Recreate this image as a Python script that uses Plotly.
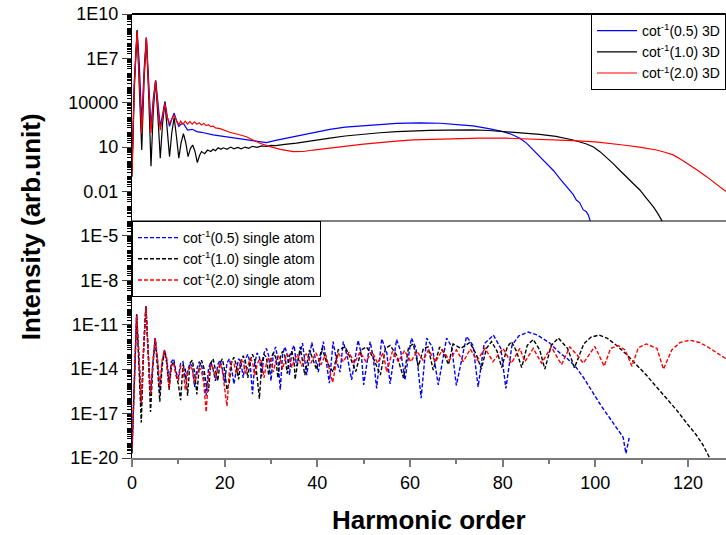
import plotly.graph_objects as go

# ---------------- data (log10 of intensity) ----------------
# 3D results (top panel)
h_3d_05 = [0, 0.5, 1.1, 1.6, 2.1, 2.6, 3.1, 3.6, 4.1, 4.6, 5.1, 5.6, 6.1, 6.6, 7.1, 7.6, 8.1, 8.6, 9.1, 9.6,
           10.1, 10.6, 11.1, 12, 13, 14, 15, 17.5, 20, 22.5, 24.7, 27, 29, 31, 33, 35.5, 39, 42.7, 46, 49.9,
           53.5, 57.1, 62.1, 66.5, 70.8, 73.6, 77, 80.1, 82, 83.7, 85.2, 86.6, 88, 89.5, 91, 92.3, 93.5, 94.5,
           95.2, 95.9, 96.6, 97.4, 98.0, 98.5, 99.0]
lg_3d_05 = [-0.5, 5.5, 8.9, 6.5, 2.6, 6.2, 8.4, 5.8, 2.4, 4.3, 5.5, 4.0, 2.4, 3.2, 4.1, 3.1, 2.4, 2.9, 3.3, 2.8,
            2.4, 2.55, 2.6, 2.15, 2.2, 2.05, 2.0, 1.82, 1.7, 1.6, 1.48, 1.38, 1.3, 1.45, 1.58, 1.7, 1.95, 2.2, 2.35, 2.45,
            2.53, 2.6, 2.63, 2.61, 2.5, 2.43, 2.25, 2.04, 1.85, 1.6, 1.25, 0.8, 0.35, -0.1, -0.6, -1.11, -1.55, -1.9,
            -2.2, -2.58, -2.75, -3.25, -3.35, -3.6, -4.1]

h_3d_10 = [0, 0.5, 1.1, 1.6, 2.1, 2.6, 3.1, 3.6, 4.1, 4.6, 5.1, 5.6, 6.1, 6.6, 7.1, 7.6, 8.1, 8.6, 9.1, 9.6,
           10.1, 10.6, 11.1, 11.6, 12.1, 12.6, 13.1, 13.6, 14.1, 14.6, 15.0, 15.7, 16.3, 17, 17.5, 18, 18.6, 19.2,
           19.7, 20.5, 21.3, 22, 22.8, 23.6, 24.4, 25.2, 26, 27, 28, 29, 30, 31, 32, 33, 35.5, 39, 42.7, 46, 49.9,
           53.5, 57.1, 60.7, 64.3, 68, 70.8, 73.6, 77, 80.8, 84.4, 88, 91.5, 95.2, 98.1, 99.6, 101, 102.4, 103.8,
           105.2, 106.7, 108.2, 109.6, 111, 112.5, 113.5, 114.5]
lg_3d_10 = [-1.0, 5.0, 8.9, 5.0, 0.8, 5.5, 8.4, 4.5, -0.3, 3.5, 5.5, 3.0, 0.25, 2.6, 4.0, 2.2, 0.35, 2.0, 3.0, 1.7,
            0.25, 1.3, 1.9, 1.3, 0.35, 0.9, 1.14, 0.7, -0.05, 0.45, 0.7, 0.55, 0.8, 0.7, 0.85, 0.75, 0.95, 0.85,
            0.95, 0.85, 1.0, 0.88, 0.98, 0.88, 1.0, 0.92, 1.05, 0.98, 1.08, 1.04, 1.12, 1.1, 1.16, 1.18, 1.27, 1.45, 1.6, 1.75, 1.89,
            1.97, 2.04, 2.1, 2.13, 2.15, 2.16, 2.16, 2.12, 2.04, 1.96, 1.86, 1.72, 1.48, 1.21, 1.0, 0.69, 0.3, -0.1,
            -0.55, -1.0, -1.45, -1.9, -2.45, -3.03, -3.5, -4.05]

h_3d_20 = [0, 0.5, 1.1, 1.6, 2.1, 2.6, 3.1, 3.6, 4.1, 4.6, 5.1, 5.6, 6.1, 6.6, 7.1, 7.6, 8.1, 8.6, 9.1, 9.6,
           10.1, 10.5, 11, 11.5, 12, 12.5, 13, 13.5, 14, 14.5, 15, 15.5, 16, 16.5, 17, 17.5, 18, 19, 21.1, 23,
           24.7, 26, 27.6, 29.8, 32, 34.8, 37, 39.1, 42, 46.3, 50, 53.5, 57, 60.7, 65, 70.8, 75, 80.8, 85, 90,
           95.2, 100, 103, 106, 109.5, 113.2, 115, 116.8, 118.6, 120.4, 122.2, 124, 126, 128.2]
lg_3d_20 = [-0.8, 5.2, 8.85, 5.5, 1.9, 5.8, 8.4, 5.0, 1.95, 4.0, 5.5, 3.6, 2.15, 3.0, 3.96, 3.0, 2.6, 2.9, 3.17, 2.8,
            2.5, 2.75, 2.55, 2.75, 2.55, 2.72, 2.55, 2.7, 2.55, 2.65, 2.5, 2.6, 2.45, 2.52, 2.38, 2.42, 2.3, 2.25, 2.0, 1.85,
            1.7, 1.5, 1.26, 1.03, 0.85, 0.69, 0.7, 0.8, 0.92, 1.07, 1.2, 1.32, 1.4, 1.48, 1.52, 1.58, 1.6, 1.6, 1.56, 1.5,
            1.44, 1.35, 1.27, 1.14, 1.0, 0.8, 0.65, 0.47, 0.15, -0.2, -0.6, -1.0, -1.5, -2.0]

# single atom results (bottom panel)
h_sa_low = [0, 0.5, 1, 1.5, 2, 2.5, 3, 3.5, 4, 4.5, 5, 5.5, 6, 6.5, 7, 7.5, 8, 8.5, 9, 9.5,
            10, 10.5, 11, 11.5, 12, 12.5, 13, 13.5, 14, 14.5, 15, 15.5, 16, 16.5, 17, 17.5, 18, 18.5, 19, 19.5,
            20, 20.5, 21, 21.5, 22, 22.5, 23, 23.5, 24, 24.5, 25, 25.5, 26, 26.5, 27, 27.5, 28, 28.5, 29, 29.5,
            30, 30.5, 31, 31.5, 32, 32.5, 33, 33.5, 34, 34.5, 35]

lg_sa_05_low = [-19.5, -14.0, -10.3, -13.2, -16.5, -12.6, -9.75, -12.8, -15.8, -13.6, -11.9, -13.4, -15.6, -13.6, -12.7, -13.3,
                -14.8, -13.5, -13.3, -14.2, -14.6, -13.6, -13.5, -14.7, -14.2, -13.6, -13.8, -15.2, -14.0, -13.5, -13.7, -14.6,
                -15.8, -14.0, -13.5, -14.0, -14.8, -13.7, -13.4, -14.0, -14.9, -13.6, -13.3, -14.0, -15.0, -14.2, -13.3, -13.5,
                -14.6, -13.3, -13.0, -13.6, -15.7, -13.6, -12.9, -13.2, -14.5, -12.9, -12.6, -13.1, -14.8, -13.0, -12.5, -13.4,
                -15.4, -13.0, -12.5, -13.0, -14.4, -12.7, -12.4]
h_sa_05_high = [35.5, 36.8, 37.7, 38.8, 40.2, 41.3, 42.6, 43.4, 44.2, 44.9, 45.6, 46.5, 47.4, 48.8, 49.5, 50.0, 51.4, 52.1,
                52.8, 53.9, 55.0, 55.7, 57.1, 58.0, 58.9, 60.3, 61.3, 62.4, 63.6, 64.8, 66.1, 67.9, 69.0, 70.0, 72.2, 73.6,
                74.7, 76.0, 78.0, 79.6, 80.7, 82.0, 83.5, 85.5, 87.5, 89.5, 90.2, 92.3, 94.0, 95.9, 97.5, 99.5, 101.3, 103.1,
                104.5, 106.0, 106.6, 107.0, 107.4]
lg_sa_05_high = [-13.8, -12.25, -14.4, -12.2, -14.2, -12.14, -14.95, -12.14, -13.5, -14.2, -12.14, -13.2, -14.73, -12.05, -13.0,
                 -15.06, -12.14, -13.3, -15.3, -11.95, -12.9, -15.0, -12.0, -12.8, -14.73, -11.9, -12.6, -15.96, -11.9, -12.5,
                 -15.06, -11.9, -12.5, -15.1, -11.8, -12.4, -15.2, -12.3, -11.7, -12.6, -15.3, -12.4, -11.75, -11.5, -11.7,
                 -12.1, -12.25, -12.9, -13.3, -13.9, -14.6, -15.6, -16.5, -17.3, -17.9, -18.6, -19.7, -19.0, -18.5]

lg_sa_10_low = [-19.7, -14.5, -10.3, -13.8, -17.6, -12.8, -9.75, -13.0, -16.9, -13.8, -11.95, -13.9, -16.2, -13.8, -12.8, -13.6,
                -15.4, -13.8, -13.5, -14.4, -15.0, -16.1, -13.7, -14.0, -15.8, -13.6, -13.4, -14.2, -15.7, -13.9, -13.4, -13.9,
                -15.0, -15.5, -13.6, -13.3, -14.0, -14.8, -13.6, -13.3, -14.1, -15.4, -14.9, -13.5, -13.2, -13.7, -14.7, -13.5,
                -13.1, -13.5, -14.6, -13.4, -13.0, -13.4, -14.5, -16.0, -13.6, -13.0, -13.2, -14.4, -13.3, -12.9, -13.2, -14.6,
                -13.2, -12.8, -13.1, -14.3, -13.1, -12.8, -13.5]
h_sa_10_high = [35.2, 36.3, 37.3, 38.3, 39.8, 41.0, 42.0, 43.4, 44.5, 46.0, 47.2, 48.3, 49.5, 50.6, 52.0, 53.6, 54.7, 55.7,
                57.2, 58.6, 59.7, 60.7, 61.8, 62.9, 63.9, 65.0, 66.4, 67.3, 68.3, 69.3, 71.0, 72.9, 74.3, 75.4, 76.5, 77.6,
                78.8, 79.8, 81.0, 81.9, 83.0, 84.1, 85.3, 86.6, 88.0, 89.1, 90.5, 92.0, 94.0, 95.5, 97.5, 99.0, 100.8, 102.5,
                104.6, 106.7, 108.9, 111.0, 113.2, 115.3, 117.5, 119.6, 121.8, 123.2, 124.6]
lg_sa_10_high = [-14.7, -12.5, -14.4, -12.7, -14.0, -12.6, -13.5, -14.2, -12.7, -12.5, -13.3, -14.16, -12.7, -12.5, -13.2, -14.4,
                 -12.6, -12.4, -13.1, -14.6, -12.5, -12.3, -13.83, -12.6, -12.5, -14.06, -12.5, -12.9, -13.7, -12.3, -12.6,
                 -12.2, -13.0, -14.0, -12.6, -12.14, -12.8, -13.9, -12.5, -12.14, -12.8, -13.9, -12.4, -12.0, -12.7, -14.0,
                 -12.4, -11.9, -12.6, -13.9, -12.3, -11.85, -11.7, -11.9, -12.4, -13.0, -13.7, -14.4, -15.2, -15.95, -16.75,
                 -17.6, -18.45, -19.1, -19.95]

lg_sa_20_low = [-19.3, -14.2, -10.4, -13.0, -16.3, -12.7, -9.8, -12.9, -15.7, -13.6, -11.9, -13.3, -15.2, -13.4, -12.7, -13.4,
                -15.3, -13.7, -13.6, -14.3, -14.8, -13.8, -13.9, -15.4, -14.3, -13.8, -14.0, -14.9, -14.3, -13.9, -14.1, -15.0,
                -16.9, -14.6, -13.7, -13.9, -14.6, -14.0, -13.6, -14.1, -15.2, -16.5, -14.2, -13.5, -13.6, -14.3, -14.0, -13.4,
                -13.5, -14.3, -13.8, -13.3, -13.5, -14.4, -13.7, -13.3, -13.5, -14.6, -13.6, -13.2, -13.4, -14.2, -13.5, -13.1,
                -13.3, -14.0, -13.4, -13.0, -13.2, -13.9, -13.4]
h_sa_20_high = [35.7, 36.6, 37.6, 38.6, 39.7, 40.8, 41.8, 43.3, 44.5, 45.6, 46.8, 48.0, 49.2, 50.5, 51.8, 53.0, 54.2, 55.0,
                56.2, 57.5, 58.8, 60.2, 61.5, 62.8, 64.0, 65.5, 67.0, 68.5, 70.0, 71.5, 73.0, 74.5, 76.2, 77.9, 80.1, 81.9,
                83.7, 84.8, 86.6, 88.4, 90.5, 92.7, 94.5, 96.2, 97.4, 99.9, 101.9, 103.3, 104.9, 106.4, 107.9, 109.3, 111.0,
                113.3, 114.7, 116.5, 118.3, 120.4, 122.5, 124.5, 126.5, 128.2]
lg_sa_20_high = [-13.0, -13.8, -12.95, -13.6, -12.9, -13.7, -13.0, -14.9, -12.9, -13.5, -12.85, -13.6, -12.85, -13.5, -12.8,
                 -13.6, -12.9, -14.2, -12.8, -13.5, -12.75, -13.5, -12.8, -13.4, -12.7, -13.5, -12.7, -13.4, -12.7, -13.5,
                 -12.65, -13.4, -12.6, -13.5, -12.6, -13.6, -12.6, -13.5, -12.6, -13.6, -12.5, -13.7, -12.5, -13.1, -13.6,
                 -12.47, -13.8, -12.6, -12.4, -12.7, -13.8, -12.55, -12.3, -12.6, -14.0, -12.7, -12.2, -12.05, -12.2, -12.55,
                 -12.95, -13.3]

labels_3d = ["cot<sup>-1</sup>(0.5) 3D", "cot<sup>-1</sup>(1.0) 3D", "cot<sup>-1</sup>(2.0) 3D"]
labels_sa = ["cot<sup>-1</sup>(0.5) single atom", "cot<sup>-1</sup>(1.0) single atom", "cot<sup>-1</sup>(2.0) single atom"]
colors = ["#0000FF", "#000000", "#FF0000"]

top_tickvals = [1e-2, 1e1, 1e4, 1e7, 1e10]
top_ticktext = ["0.01", "10", "10000", "1E7", "1E10"]
bot_tickvals = [1e-20, 1e-17, 1e-14, 1e-11, 1e-8, 1e-5]
bot_ticktext = ["1E-20", "1E-17", "1E-14", "1E-11", "1E-8", "1E-5"]
x_tickvals = [0, 20, 40, 60, 80, 100, 120]


def pw(v):
    return [10.0 ** a for a in v]


FONT = "Arial, Liberation Sans, sans-serif"
fig = go.Figure()

series_3d = [(h_3d_05, lg_3d_05), (h_3d_10, lg_3d_10), (h_3d_20, lg_3d_20)]
for (hx, lg), name, col in zip(series_3d, labels_3d, colors):
    fig.add_trace(go.Scatter(x=hx, y=pw(lg), mode="lines", name=name, xaxis="x2", yaxis="y2",
                             line=dict(color=col, width=1.2), legend="legend"))

series_sa = [(h_sa_low + h_sa_05_high, lg_sa_05_low + lg_sa_05_high),
             (h_sa_low + h_sa_10_high, lg_sa_10_low + lg_sa_10_high),
             (h_sa_low + h_sa_20_high, lg_sa_20_low + lg_sa_20_high)]
for (hx, lg), name, col in zip(series_sa, labels_sa, colors):
    fig.add_trace(go.Scatter(x=hx, y=pw(lg), mode="lines", name=name, xaxis="x", yaxis="y",
                             line=dict(color=col, width=1.4, dash="4px,2px"), legend="legend2"))

split = 237 / 444

minor_top = [m * 10.0 ** k for k in range(-4, 10) for m in range(1, 10)]
minor_bot = [m * 10.0 ** k for k in range(-20, -4) for m in range(1, 10)]

fig.update_layout(
    width=726, height=535,
    margin=dict(l=132, r=0, t=14, b=77),
    paper_bgcolor="white", plot_bgcolor="white",
    font=dict(family=FONT, color="black", size=18),
    xaxis=dict(domain=[0, 1], anchor="y", range=[0, 128.2], tickvals=x_tickvals,
               ticks="outside", ticklen=7, tickwidth=1.5, tickcolor="#7a7a7a",
               showline=True, linecolor="#7a7a7a", linewidth=2, showgrid=False, zeroline=False,
               tickfont=dict(size=18),
               minor=dict(dtick=10, ticks="outside", ticklen=4, tickcolor="#7a7a7a", showgrid=False)),
    xaxis2=dict(domain=[0, 1], anchor="y2", matches="x", showticklabels=False, ticks="",
                showline=False, showgrid=False, zeroline=False),
    yaxis=dict(domain=[0, split], anchor="x", type="log", range=[-20, -4],
               tickvals=bot_tickvals, ticktext=bot_ticktext, ticks="outside", ticklen=9,
               showline=True, linecolor="black", linewidth=1, showgrid=False, zeroline=False,
               tickfont=dict(size=18),
               minor=dict(tickvals=minor_bot, ticks="outside", ticklen=4, tickcolor="black", showgrid=False)),
    yaxis2=dict(domain=[split, 1], anchor="x2", type="log", range=[-4, 10],
                tickvals=top_tickvals, ticktext=top_ticktext, ticks="outside", ticklen=9,
                showline=True, linecolor="black", linewidth=1, showgrid=False, zeroline=False,
                tickfont=dict(size=18),
                minor=dict(tickvals=minor_top, ticks="outside", ticklen=4, tickcolor="black", showgrid=False)),
    legend=dict(x=1, xanchor="right", y=1, yanchor="top", bgcolor="white", bordercolor="black",
                borderwidth=1, font=dict(size=14, family=FONT), itemwidth=40, tracegroupgap=0),
    legend2=dict(x=0, xanchor="left", y=split, yanchor="top", bgcolor="white", bordercolor="black",
                 borderwidth=1, font=dict(size=14, family=FONT), itemwidth=40, tracegroupgap=0),
    showlegend=True,
    shapes=[
        dict(type="line", xref="paper", yref="paper", x0=0, x1=1, y0=1, y1=1,
             line=dict(color="black", width=2)),
        dict(type="line", xref="paper", yref="paper", x0=0, x1=1, y0=split, y1=split,
             line=dict(color="black", width=1)),
    ],
    annotations=[
        dict(text="<b>Intensity (arb.unit)</b>", xref="paper", yref="paper", x=-0.17, y=0.52,
             textangle=-90, showarrow=False, font=dict(size=26, family=FONT), xanchor="center", yanchor="middle"),
        dict(text="<b>Harmonic order</b>", xref="paper", yref="paper", x=0.5, y=-0.14,
             showarrow=False, font=dict(size=26, family=FONT), xanchor="center", yanchor="middle"),
    ],
)

fig.write_html("out.html", config={"displayModeBar": False},
               post_script="document.body.style.margin='0';document.body.style.overflow='hidden';")
